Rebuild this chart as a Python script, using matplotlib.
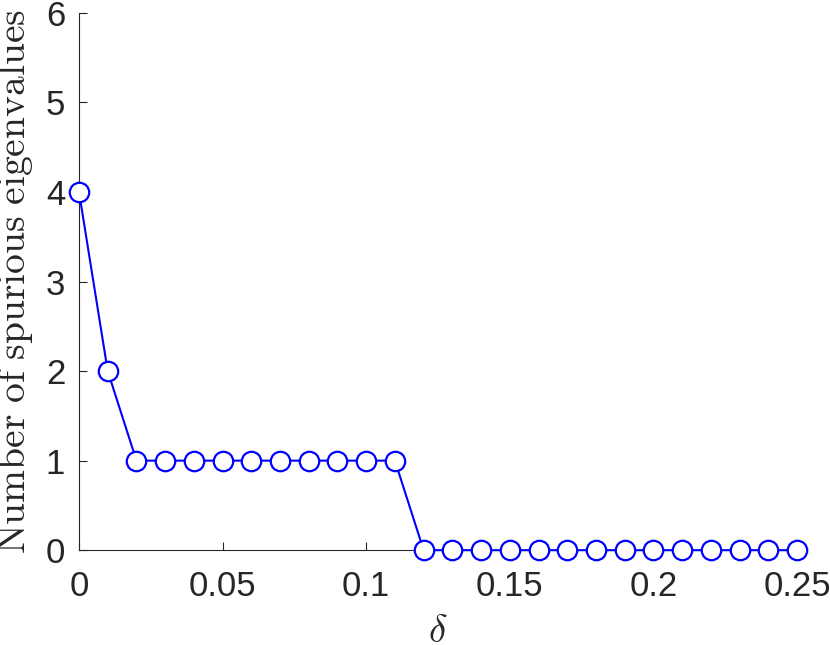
import numpy as np
import matplotlib
matplotlib.use("Agg")
import matplotlib.pyplot as plt

plt.rcParams['mathtext.fontset'] = 'cm'
plt.rcParams['font.family'] = ['Liberation Sans', 'DejaVu Sans']

# data: delta values and number of spurious eigenvalues
delta = [0.00, 0.01, 0.02, 0.03, 0.04, 0.05, 0.06, 0.07, 0.08, 0.09,
         0.10, 0.11, 0.12, 0.13, 0.14, 0.15, 0.16, 0.17, 0.18, 0.19,
         0.20, 0.21, 0.22, 0.23, 0.24, 0.25]
n_spurious = [4, 2, 1, 1, 1, 1, 1, 1, 1, 1,
              1, 1, 0, 0, 0, 0, 0, 0, 0, 0,
              0, 0, 0, 0, 0, 0]
xticks = [0, 0.05, 0.1, 0.15, 0.2, 0.25]
xticklabels = ['0', '0.05', '0.1', '0.15', '0.2', '0.25']
yticks = [0, 1, 2, 3, 4, 5, 6]

axcolor = '#262626'

fig = plt.figure(figsize=(8.3, 6.45), dpi=100)
ax = fig.add_axes([0.0952, 0.147, 0.865, 0.833])

ax.plot(delta, n_spurious, color='#0000ff', linewidth=1.5,
        marker='o', markersize=14, markerfacecolor='white',
        markeredgecolor='#0000ff', markeredgewidth=1.6, clip_on=False, zorder=3)

ax.set_xlim(0, 0.25)
ax.set_ylim(0, 6)
ax.set_xticks(xticks)
ax.set_xticklabels(xticklabels)
ax.set_yticks(yticks)

for s in ['top', 'right']:
    ax.spines[s].set_visible(False)
for s in ['left', 'bottom']:
    ax.spines[s].set_color(axcolor)
    ax.spines[s].set_linewidth(0.8)

ax.tick_params(direction='in', length=5.5, width=0.8, color=axcolor,
               labelcolor=axcolor, labelsize=25)
ax.tick_params(axis='x', pad=14)
ax.tick_params(axis='y', pad=10)

ax.set_xlabel(r'$\delta$', fontsize=28, color=axcolor)
ax.set_ylabel(r'$\mathrm{Number\ of\ spurious\ eigenvalues}$', fontsize=28.5,
              color=axcolor)
ax.xaxis.set_label_coords(0.5, -0.118)
ax.yaxis.set_label_coords(-0.062, 0.5)

fig.savefig('out.png', dpi=100)
